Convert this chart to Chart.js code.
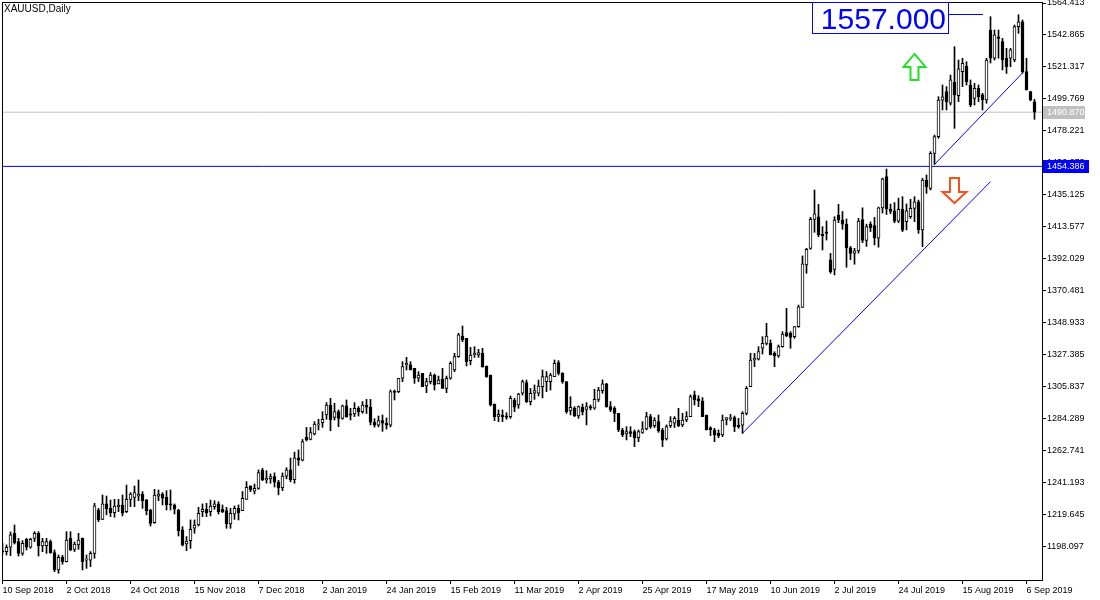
<!DOCTYPE html>
<html>
<head>
<meta charset="utf-8">
<script src="https://cdn.jsdelivr.net/npm/chart.js@4.4.1/dist/chart.umd.min.js"></script>
<style>
  html, body { margin: 0; padding: 0; background: #fff; }
  canvas { display: block; }
</style>
</head>
<body>
<canvas id="chart" width="1100" height="600"></canvas>
<script>
const symbolTitle = 'XAUUSD,Daily';

// one label every 16 daily bars, starting at bar 0
const dateTicks = ['10 Sep 2018', '2 Oct 2018', '24 Oct 2018', '15 Nov 2018', '7 Dec 2018',
  '2 Jan 2019', '24 Jan 2019', '15 Feb 2019', '11 Mar 2019', '2 Apr 2019', '25 Apr 2019',
  '17 May 2019', '10 Jun 2019', '2 Jul 2019', '24 Jul 2019', '15 Aug 2019', '6 Sep 2019'];

const priceTicks = [1564.413, 1542.865, 1521.317, 1499.769, 1478.221, 1456.673, 1435.125,
  1413.577, 1392.029, 1370.481, 1348.933, 1327.385, 1305.837, 1284.289, 1262.741,
  1241.193, 1219.645, 1198.097];

// daily bars, 10 Sep 2018 .. 10 Sep 2019
const opens = [
  1195.5, 1194.9, 1197.9, 1207.3, 1201.7, 1193.8, 1203.3, 1197.9, 1203.9, 1207.3,
  1198.8, 1199.0, 1201.7, 1194.3, 1182.6, 1191.1, 1188.2, 1203.9, 1196.5, 1199.5,
  1203.9, 1189.3, 1189.3, 1193.8, 1223.0, 1216.7, 1227.1, 1224.1, 1221.2, 1225.1,
  1226.3, 1221.9, 1230.2, 1231.5, 1232.4, 1233.8, 1229.7, 1223.0, 1214.5, 1232.4,
  1233.8, 1231.5, 1227.1, 1226.4, 1223.0, 1209.6, 1200.1, 1202.4, 1210.7, 1212.9,
  1221.9, 1223.5, 1221.9, 1225.3, 1227.1, 1223.5, 1222.6, 1213.6, 1220.3, 1224.1,
  1222.6, 1230.2, 1239.2, 1235.6, 1237.6, 1249.9, 1243.2, 1243.9, 1245.5, 1241.8,
  1238.1, 1245.8, 1250.1, 1243.5, 1258.2, 1256.6, 1272.0, 1270.6, 1274.2, 1280.3,
  1281.8, 1287.0, 1293.7, 1285.4, 1289.2, 1284.7, 1293.1, 1287.7, 1287.7, 1291.5,
  1289.2, 1293.7, 1292.3, 1282.2, 1280.2, 1283.2, 1281.5, 1280.2, 1303.0, 1302.7,
  1311.7, 1320.7, 1320.7, 1318.4, 1311.7, 1315.0, 1306.5, 1309.4, 1313.9, 1307.9,
  1311.0, 1304.9, 1311.7, 1317.3, 1326.3, 1340.2, 1338.6, 1323.6, 1327.4, 1327.4,
  1328.5, 1320.0, 1313.9, 1294.4, 1286.0, 1287.0, 1286.3, 1285.9, 1297.1, 1293.7,
  1301.6, 1308.8, 1296.0, 1301.6, 1301.6, 1306.1, 1309.4, 1309.4, 1312.8, 1322.2,
  1315.0, 1309.4, 1289.7, 1291.5, 1286.3, 1292.2, 1290.8, 1292.6, 1291.5, 1297.5,
  1303.4, 1307.9, 1292.6, 1291.5, 1288.1, 1276.9, 1274.2, 1275.8, 1275.8, 1271.7,
  1275.3, 1277.6, 1285.9, 1279.8, 1282.5, 1276.9, 1270.8, 1279.8, 1281.4, 1283.6,
  1280.3, 1283.6, 1285.9, 1300.5, 1297.8, 1296.4, 1287.0, 1278.4, 1276.9, 1274.6,
  1273.5, 1283.6, 1284.5, 1285.2, 1280.2, 1280.2, 1288.1, 1306.1, 1324.0, 1324.5,
  1331.9, 1335.2, 1335.2, 1328.5, 1326.7, 1333.0, 1342.4, 1342.0, 1339.7, 1346.5,
  1359.5, 1388.0, 1399.2, 1418.7, 1420.5, 1408.8, 1410.4, 1391.4, 1385.0, 1421.5,
  1418.3, 1415.4, 1399.6, 1395.8, 1397.5, 1418.5, 1404.5, 1415.5, 1414.5, 1406.0,
  1426.5, 1447.5, 1425.7, 1424.5, 1417.5, 1425.7, 1417.2, 1420.5, 1426.1, 1430.6,
  1411.6, 1445.2, 1439.6, 1463.2, 1474.4, 1499.0, 1504.7, 1496.9, 1511.0, 1502.0,
  1518.2, 1522.0, 1509.2, 1500.2, 1506.9, 1502.5, 1499.1, 1546.2, 1527.2, 1541.6,
  1538.4, 1527.2, 1527.2, 1526.0, 1548.5, 1551.8, 1518.2, 1504.7, 1497.9
];
const highs = [
  1200.6, 1199.5, 1208.2, 1212.9, 1203.9, 1202.4, 1203.9, 1204.0, 1208.4, 1208.4,
  1203.9, 1203.9, 1202.8, 1196.1, 1192.7, 1192.5, 1208.4, 1208.4, 1201.5, 1207.3,
  1204.2, 1192.7, 1195.0, 1227.5, 1224.1, 1233.1, 1232.4, 1229.7, 1230.2, 1230.2,
  1233.1, 1239.8, 1234.7, 1239.2, 1243.2, 1235.4, 1230.2, 1223.5, 1236.9, 1236.5,
  1234.7, 1236.0, 1236.5, 1227.1, 1223.5, 1211.8, 1205.1, 1216.3, 1216.3, 1224.8,
  1227.1, 1227.5, 1229.7, 1229.3, 1228.6, 1226.4, 1224.8, 1224.1, 1225.7, 1226.4,
  1235.4, 1242.1, 1239.2, 1240.5, 1250.0, 1251.1, 1249.5, 1247.3, 1248.0, 1243.0,
  1248.0, 1251.5, 1258.0, 1262.0, 1263.5, 1270.5, 1278.6, 1278.6, 1282.5, 1284.1,
  1289.2, 1295.3, 1298.2, 1294.9, 1290.4, 1293.7, 1297.1, 1291.5, 1295.3, 1292.6,
  1296.0, 1297.5, 1297.5, 1284.5, 1286.3, 1287.0, 1285.0, 1303.8, 1303.8, 1311.7,
  1322.9, 1325.8, 1322.9, 1318.4, 1316.2, 1315.0, 1311.7, 1315.5, 1314.6, 1313.2,
  1318.4, 1313.2, 1322.9, 1328.5, 1342.0, 1346.9, 1338.6, 1332.5, 1333.0, 1331.2,
  1331.9, 1320.0, 1313.9, 1294.4, 1290.4, 1290.4, 1288.5, 1299.8, 1298.2, 1301.6,
  1310.5, 1310.5, 1304.9, 1307.2, 1310.5, 1317.3, 1316.2, 1315.0, 1324.0, 1323.6,
  1315.5, 1309.4, 1299.3, 1292.6, 1293.1, 1294.4, 1295.3, 1293.7, 1304.3, 1305.6,
  1310.6, 1308.3, 1296.0, 1292.6, 1288.1, 1278.0, 1279.1, 1279.1, 1276.9, 1276.9,
  1282.5, 1288.8, 1287.4, 1285.2, 1287.0, 1278.0, 1280.3, 1285.9, 1285.9, 1291.5,
  1288.1, 1289.2, 1300.5, 1303.1, 1300.0, 1298.7, 1287.0, 1279.1, 1278.0, 1276.9,
  1287.0, 1285.2, 1287.4, 1286.3, 1284.7, 1289.2, 1306.1, 1328.5, 1328.5, 1333.0,
  1339.7, 1348.7, 1337.5, 1329.6, 1334.1, 1343.1, 1358.8, 1343.1, 1346.5, 1361.0,
  1394.1, 1399.2, 1420.1, 1438.5, 1428.8, 1413.8, 1417.6, 1395.8, 1420.5, 1428.8,
  1424.0, 1419.0, 1400.5, 1399.2, 1419.4, 1426.5, 1415.5, 1417.0, 1420.0, 1427.0,
  1446.5, 1452.6, 1429.0, 1430.0, 1433.0, 1434.0, 1429.1, 1432.2, 1434.0, 1431.7,
  1446.3, 1448.6, 1464.3, 1475.5, 1501.3, 1509.2, 1508.1, 1515.9, 1535.0, 1526.0,
  1527.2, 1524.9, 1512.6, 1510.3, 1509.2, 1503.6, 1527.2, 1555.2, 1546.2, 1546.2,
  1540.6, 1533.9, 1533.9, 1549.6, 1556.5, 1553.0, 1527.2, 1505.0, 1499.5
];
const lows = [
  1193.3, 1192.7, 1192.3, 1200.1, 1192.0, 1192.5, 1196.1, 1197.2, 1201.7, 1192.0,
  1194.9, 1193.8, 1193.8, 1181.5, 1180.4, 1186.5, 1188.0, 1195.5, 1195.0, 1196.5,
  1182.6, 1183.7, 1184.8, 1190.5, 1215.2, 1216.5, 1219.7, 1218.5, 1218.1, 1221.9,
  1219.0, 1221.2, 1225.3, 1225.3, 1229.3, 1224.1, 1219.7, 1212.2, 1214.0, 1229.3,
  1226.4, 1223.0, 1223.0, 1220.3, 1205.5, 1198.8, 1195.6, 1197.2, 1207.3, 1212.2,
  1218.5, 1218.5, 1219.0, 1223.5, 1220.3, 1221.2, 1210.7, 1210.7, 1216.7, 1216.3,
  1222.6, 1230.2, 1235.4, 1233.8, 1236.9, 1242.8, 1241.1, 1241.0, 1238.5, 1233.2,
  1236.0, 1244.0, 1242.0, 1241.0, 1253.0, 1256.0, 1269.5, 1270.2, 1273.5, 1276.9,
  1278.7, 1284.1, 1276.4, 1283.6, 1279.1, 1284.1, 1285.4, 1283.6, 1285.9, 1286.3,
  1288.1, 1288.0, 1280.3, 1278.8, 1279.0, 1276.0, 1277.5, 1279.0, 1297.1, 1302.0,
  1309.4, 1317.3, 1317.3, 1308.3, 1309.4, 1306.1, 1302.0, 1307.9, 1303.8, 1307.9,
  1304.9, 1302.0, 1311.0, 1316.2, 1325.8, 1336.4, 1320.0, 1320.7, 1325.8, 1325.8,
  1319.1, 1312.3, 1293.0, 1283.2, 1282.5, 1282.5, 1284.1, 1284.7, 1289.2, 1291.5,
  1300.4, 1295.4, 1293.7, 1297.5, 1299.8, 1298.5, 1302.7, 1303.8, 1312.8, 1313.9,
  1308.3, 1288.1, 1287.0, 1285.9, 1284.7, 1287.0, 1280.3, 1290.4, 1290.8, 1296.0,
  1301.6, 1292.2, 1289.2, 1282.5, 1275.8, 1272.4, 1270.2, 1272.4, 1265.7, 1269.0,
  1274.6, 1276.9, 1278.0, 1278.5, 1275.3, 1265.7, 1270.1, 1278.5, 1278.5, 1279.1,
  1279.1, 1282.5, 1285.9, 1293.7, 1292.6, 1285.9, 1276.9, 1273.1, 1269.0, 1271.7,
  1272.4, 1280.3, 1283.2, 1275.8, 1278.0, 1274.6, 1287.0, 1306.1, 1319.5, 1324.0,
  1328.1, 1334.1, 1327.4, 1319.5, 1325.8, 1332.6, 1339.7, 1331.9, 1338.6, 1346.0,
  1359.5, 1382.4, 1398.5, 1410.0, 1407.0, 1398.1, 1404.8, 1382.4, 1381.3, 1416.5,
  1412.0, 1386.5, 1391.5, 1388.5, 1396.0, 1403.0, 1400.5, 1410.5, 1401.5, 1400.0,
  1423.0, 1422.0, 1422.5, 1416.5, 1416.5, 1410.5, 1411.6, 1419.4, 1417.2, 1409.3,
  1400.3, 1436.2, 1438.5, 1455.7, 1473.3, 1492.4, 1492.4, 1495.7, 1480.0, 1498.0,
  1508.1, 1509.2, 1494.6, 1495.7, 1498.0, 1492.4, 1496.9, 1524.0, 1526.0, 1527.2,
  1519.3, 1517.0, 1521.5, 1524.9, 1544.0, 1517.1, 1505.8, 1498.5, 1486.1
];
const closes = [
  1194.9, 1197.9, 1206.2, 1201.0, 1193.8, 1200.6, 1197.9, 1203.3, 1207.3, 1198.8,
  1201.7, 1201.7, 1194.3, 1182.6, 1191.1, 1188.2, 1202.8, 1196.1, 1200.1, 1202.8,
  1188.2, 1189.8, 1193.8, 1225.8, 1216.3, 1227.1, 1223.7, 1221.2, 1225.7, 1226.3,
  1220.8, 1230.2, 1233.8, 1234.7, 1233.8, 1229.3, 1222.6, 1214.0, 1233.1, 1233.8,
  1230.9, 1226.4, 1226.4, 1223.5, 1209.1, 1199.4, 1202.1, 1210.0, 1212.9, 1220.8,
  1223.5, 1221.2, 1225.7, 1227.1, 1221.9, 1221.9, 1213.6, 1220.8, 1224.1, 1221.2,
  1230.9, 1238.3, 1236.5, 1237.6, 1248.2, 1243.2, 1244.3, 1245.5, 1241.8, 1238.1,
  1245.8, 1250.1, 1243.5, 1258.2, 1256.6, 1269.0, 1270.2, 1275.1, 1280.9, 1280.9,
  1284.1, 1293.7, 1283.6, 1289.2, 1284.7, 1293.1, 1285.9, 1286.8, 1291.5, 1289.2,
  1293.7, 1292.3, 1282.2, 1280.2, 1283.2, 1281.5, 1280.2, 1302.7, 1302.2, 1311.7,
  1319.5, 1321.8, 1317.3, 1311.7, 1313.9, 1306.1, 1309.4, 1313.9, 1307.2, 1310.5,
  1304.9, 1311.7, 1321.8, 1326.3, 1340.9, 1337.5, 1322.9, 1327.4, 1328.5, 1329.0,
  1319.5, 1312.8, 1293.7, 1285.9, 1287.4, 1285.9, 1285.4, 1298.2, 1292.2, 1301.1,
  1309.4, 1296.0, 1301.6, 1303.4, 1306.5, 1312.8, 1312.8, 1313.9, 1321.8, 1315.0,
  1309.4, 1289.2, 1292.2, 1286.3, 1292.6, 1289.2, 1292.6, 1291.5, 1297.5, 1303.8,
  1307.9, 1292.6, 1290.4, 1288.1, 1276.9, 1273.5, 1275.8, 1274.6, 1271.7, 1275.8,
  1277.6, 1285.9, 1279.1, 1283.6, 1276.2, 1270.1, 1279.1, 1282.9, 1284.7, 1279.8,
  1283.6, 1285.9, 1299.3, 1297.1, 1296.4, 1285.9, 1276.9, 1276.9, 1273.5, 1273.1,
  1283.6, 1285.2, 1285.0, 1279.1, 1279.1, 1288.1, 1304.9, 1324.0, 1325.1, 1329.6,
  1335.2, 1340.2, 1327.4, 1326.7, 1333.0, 1341.5, 1340.2, 1339.3, 1346.5, 1359.9,
  1388.7, 1398.5, 1418.7, 1422.5, 1408.2, 1407.7, 1409.3, 1383.5, 1418.3, 1418.3,
  1415.4, 1399.6, 1395.8, 1397.5, 1417.6, 1404.5, 1413.8, 1413.1, 1406.0, 1426.5,
  1446.0, 1425.7, 1424.0, 1417.5, 1425.5, 1411.5, 1424.4, 1426.1, 1430.6, 1411.6,
  1445.2, 1440.7, 1463.2, 1474.4, 1499.1, 1501.3, 1498.0, 1512.6, 1502.5, 1520.0,
  1523.8, 1511.4, 1495.7, 1506.9, 1501.3, 1499.1, 1526.0, 1527.2, 1542.9, 1540.5,
  1526.0, 1521.5, 1532.8, 1548.5, 1551.8, 1518.2, 1505.8, 1499.1, 1490.9
];

// objects drawn on the chart: bar index / price pairs
const trendLineA = [{ x: 185, y: 1274.7 }, { x: 247, y: 1444.1 }];
const trendLineB = [{ x: 233, y: 1455.7 }, { x: 255, y: 1517.3 }];
const levelPrice = 1454.386;
const bidPrice = 1490.870;
const buyArrow = { x: 228, y: 1530.1 };
const sellArrow = { x: 238, y: 1429.7 };
const priceMark = { x: 245, y: 1557.0, text: '1557.000' };

const FONT = '"Liberation Sans", Arial, sans-serif';

const wickData = highs.map((h, i) => ({ x: i, y: [lows[i], h] }));
const bodyData = opens.map((o, i) => ({ x: i, y: [o, closes[i]] }));
const bodyColors = opens.map((o, i) => (closes[i] >= o ? '#ffffff' : '#000000'));

const flatLine = (p) => [{ x: -2, y: p }, { x: 262, y: p }];

const drawTag = (ctx, yPix, x0, w, fill, text) => {
  ctx.fillStyle = fill;
  ctx.fillRect(x0, Math.round(yPix) - 6, w, 13);
  ctx.fillStyle = '#ffffff';
  ctx.font = '9px ' + FONT;
  ctx.textAlign = 'left';
  ctx.textBaseline = 'middle';
  ctx.fillText(text, x0 + 4, Math.round(yPix) + 0.5);
};

const drawArrow = (ctx, cx, tipY, pts, color) => {
  ctx.beginPath();
  pts.forEach(([dx, dy], i) => {
    if (i === 0) ctx.moveTo(cx + dx, tipY + dy);
    else ctx.lineTo(cx + dx, tipY + dy);
  });
  ctx.closePath();
  ctx.strokeStyle = color;
  ctx.lineWidth = 2;
  ctx.stroke();
};

const noPad = (scale) => {
  scale.paddingTop = 0;
  scale.paddingBottom = 0;
  scale.paddingLeft = 0;
  scale.paddingRight = 0;
};

const overlayPlugin = {
  id: 'overlay',
  afterDraw(chart) {
    const { ctx, chartArea: a, scales } = chart;
    const xs = scales.x;
    const ys = scales.y;
    ctx.save();

    // frame
    ctx.strokeStyle = '#000000';
    ctx.lineWidth = 1;
    ctx.strokeRect(a.left - 0.5, a.top - 0.5, a.right - a.left + 1, a.bottom - a.top + 1);

    // title
    ctx.fillStyle = '#000000';
    ctx.font = '10px ' + FONT;
    ctx.textAlign = 'left';
    ctx.textBaseline = 'top';
    ctx.fillText(symbolTitle, 4, 4);

    // price tags on the axis
    drawTag(ctx, ys.getPixelForValue(bidPrice), a.right + 1, 42, '#c0c0c0', bidPrice.toFixed(3));
    drawTag(ctx, ys.getPixelForValue(levelPrice), a.right + 1, 46, '#0000ff', levelPrice.toFixed(3));

    // arrows
    const upPts = [[0, 0], [11, 13], [4, 13], [4, 26], [-4, 26], [-4, 13], [-11, 13]];
    const downPts = [[0, 0], [12, -11], [4.5, -11], [4.5, -25], [-4.5, -25], [-4.5, -11], [-12, -11]];
    drawArrow(ctx, xs.getPixelForValue(buyArrow.x), ys.getPixelForValue(buyArrow.y), upPts, '#22e02a');
    drawArrow(ctx, xs.getPixelForValue(sellArrow.x), ys.getPixelForValue(sellArrow.y), downPts, '#f4511e');

    // price label box
    const px = Math.round(xs.getPixelForValue(priceMark.x));
    const py = Math.round(ys.getPixelForValue(priceMark.y));
    ctx.strokeStyle = '#0000ff';
    ctx.lineWidth = 1;
    ctx.beginPath();
    ctx.moveTo(px - 35, py + 0.5);
    ctx.lineTo(px, py + 0.5);
    ctx.stroke();
    ctx.strokeRect(px - 170.5, py - 11.5, 136, 31);
    ctx.fillStyle = '#0000ff';
    ctx.font = '30px ' + FONT;
    ctx.textAlign = 'right';
    ctx.textBaseline = 'alphabetic';
    ctx.fillText(priceMark.text, px - 37, py + 15);

    ctx.restore();
  }
};

new Chart(document.getElementById('chart'), {
  data: {
    datasets: [
      {
        type: 'line', data: flatLine(levelPrice), borderColor: '#0000ff', borderWidth: 1,
        pointRadius: 0, order: 5
      },
      {
        type: 'line', data: flatLine(bidPrice), borderColor: '#c0c0c0', borderWidth: 1,
        pointRadius: 0, order: 6
      },
      {
        type: 'line', data: trendLineA, borderColor: '#0000ff', borderWidth: 1,
        pointRadius: 0, order: 0
      },
      {
        type: 'line', data: trendLineB, borderColor: '#0000ff', borderWidth: 1,
        pointRadius: 0, order: 0
      },
      {
        type: 'bar', data: wickData, backgroundColor: '#000000', barThickness: 1,
        grouped: false, order: 2
      },
      {
        type: 'bar', data: bodyData, backgroundColor: bodyColors, borderColor: '#000000',
        borderWidth: 1, borderSkipped: false, barThickness: 3, minBarLength: 1,
        grouped: false, order: 1
      }
    ]
  },
  options: {
    responsive: false,
    animation: false,
    devicePixelRatio: 1,
    layout: { padding: { left: 3, top: 3, right: 0, bottom: 0 } },
    plugins: { legend: { display: false }, tooltip: { enabled: false } },
    scales: {
      x: {
        type: 'linear',
        min: 0.125,
        max: 259.875,
        offset: false,
        grid: { display: true, drawOnChartArea: false, drawTicks: true, tickLength: 4, color: '#000000', offset: false },
        border: { display: false },
        afterBuildTicks: (scale) => {
          scale.ticks = dateTicks.map((_, i) => ({ value: i * 16 }));
        },
        afterFit: (scale) => { scale.height = 20; noPad(scale); },
        ticks: {
          autoSkip: false,
          maxRotation: 0,
          align: 'start',
          padding: 1,
          color: '#000000',
          font: { family: FONT, size: 9 },
          callback: (v, i) => dateTicks[i]
        }
      },
      y: {
        type: 'linear',
        position: 'right',
        min: 1175.866,
        max: 1564.413,
        grid: { display: true, drawOnChartArea: false, drawTicks: true, tickLength: 4, color: '#000000' },
        border: { display: false },
        afterBuildTicks: (scale) => {
          scale.ticks = priceTicks.map((v) => ({ value: v }));
        },
        afterFit: (scale) => { scale.width = 58; noPad(scale); },
        ticks: {
          autoSkip: false,
          padding: 1,
          color: '#000000',
          font: { family: FONT, size: 9 },
          callback: (v) => Number(v).toFixed(3)
        }
      }
    }
  },
  plugins: [overlayPlugin]
});
</script>
</body>
</html>
